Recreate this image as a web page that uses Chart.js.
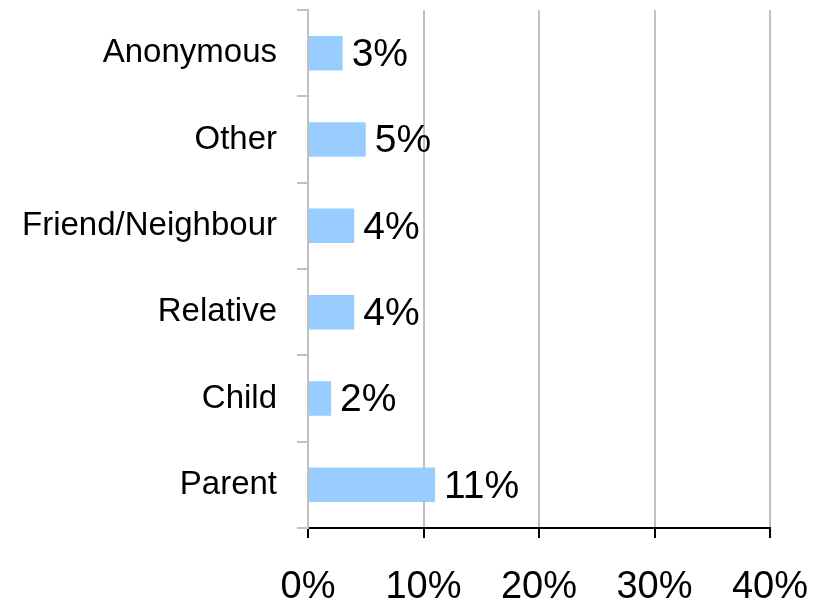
<!DOCTYPE html>
<html>
<head>
<meta charset="utf-8">
<script src="https://cdn.jsdelivr.net/npm/chart.js@4"></script>
<style>
    html, body { margin: 0; padding: 0; background: #fff; }
    #wrap { width: 825px; height: 601px; position: relative; }
</style>
</head>
<body>
<div id="wrap"><canvas id="chart"></canvas></div>
<script>
// Dữ liệu
const categories = ['Anonymous', 'Other', 'Friend/Neighbour', 'Relative', 'Child', 'Parent'];
const shares = [3, 5, 4, 4, 2, 11];
const xTicks = [0, 10, 20, 30, 40];

// Nhãn giá trị cạnh thanh
const valueLabels = {
    id: 'valueLabels',
    afterDatasetsDraw(chart) {
        const ctx = chart.ctx;
        const meta = chart.getDatasetMeta(0);
        ctx.save();
        ctx.font = '39px Arial, "Liberation Sans", sans-serif';
        ctx.fillStyle = '#000';
        ctx.textBaseline = 'middle';
        ctx.textAlign = 'left';
        meta.data.forEach((bar, i) => {
            ctx.fillText(shares[i] + '%', bar.x + 9, bar.y + 2);
        });
        ctx.restore();
    }
};

new Chart(document.getElementById('chart'), {
    type: 'bar',
    data: {
        labels: categories,
        datasets: [{
            data: shares,
            backgroundColor: '#99ccff',
            borderWidth: 0,
            categoryPercentage: 1,
            barPercentage: 0.4
        }]
    },
    options: {
        indexAxis: 'y',
        responsive: true,
        maintainAspectRatio: false,
        animation: false,
        layout: { padding: { top: 10, right: 55, left: 0, bottom: 0 } },
        plugins: {
            legend: { display: false },
            tooltip: { enabled: false }
        },
        scales: {
            x: {
                min: 0,
                max: 40,
                afterBuildTicks: scale => { scale.ticks = xTicks.map(v => ({ value: v })); },
                afterFit: scale => {
                    scale.height = 73;
                    scale.paddingLeft = 0;
                    scale.paddingRight = 0;
                },
                border: { color: '#000', width: 2 },
                grid: {
                    color: '#c0c0c0',
                    lineWidth: 2,
                    tickColor: '#000',
                    tickLength: 10
                },
                ticks: {
                    color: '#000',
                    padding: 27,
                    maxRotation: 0,
                    font: { family: 'Arial, "Liberation Sans", sans-serif', size: 38 },
                    callback: v => v + '%'
                }
            },
            y: {
                afterFit: scale => {
                    scale.width = 308;
                    scale.paddingTop = 0;
                    scale.paddingBottom = 0;
                },
                border: { color: '#c0c0c0', width: 2 },
                grid: {
                    drawOnChartArea: false,
                    color: '#c0c0c0',
                    lineWidth: 2,
                    tickLength: 11
                },
                ticks: {
                    color: '#000',
                    padding: 20,
                    font: { family: 'Arial, "Liberation Sans", sans-serif', size: 33 }
                }
            }
        }
    },
    plugins: [valueLabels]
});
</script>
</body>
</html>
